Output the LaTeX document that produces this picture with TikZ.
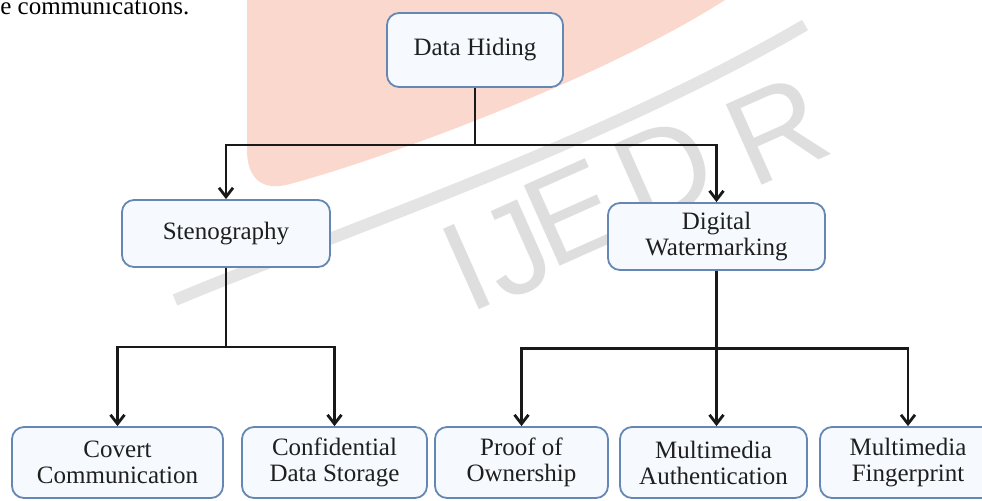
\documentclass[tikz,border=0pt]{standalone}
\usepackage{fontspec}
\setmainfont{Liberation Serif}
\newfontfamily\wmfont{Liberation Sans}
\usetikzlibrary{arrows.meta}

\definecolor{boxline}{RGB}{100,135,180}
\definecolor{boxfill}{RGB}{246,250,254}
\definecolor{wmpink}{RGB}{250,216,206}
\definecolor{wmgray}{RGB}{222,222,222}

\tikzset{
	topic/.style={draw=boxline, line width=0.9pt, fill=boxfill, rounded corners=6pt,
		align=center, text=black!88, inner sep=0pt, minimum height=35.5pt,
		font=\fontsize{12.5}{13}\selectfont},
	conn/.style={line width=1.4pt, black!90},
	arr/.style={conn, -{Straight Barb[length=4.5pt,width=7pt]}}
}

\begin{document}
\begin{tikzpicture}[x=0.5pt, y=-0.5pt]
		\useasboundingbox (0,0) rectangle (982,500);
		\clip (0,0) rectangle (982,500);
		
		% Watermark in the background
		\fill[wmpink] (247,0) -- (247,150) .. controls (247,178) and (262,192) .. (290,184)
			.. controls (380,160) and (600,80) .. (725,0) -- cycle;
		\draw[wmgray!80, line width=6pt] (175,300) .. controls (330,235) and (600,145) .. (805,25);
		\foreach \ch/\cx/\cy in {I/467/267, J/515/250, E/572/213, D/665/170, R/777/130}{
			\node[wmgray, rotate=24, inner sep=0pt, font=\wmfont\fontsize{64}{64}\selectfont] (wm-\ch) at (\cx,\cy) {\ch};
		}
		
		% Cut-off line of the page text
		\node[anchor=base west, inner sep=0pt, font=\fontsize{12.5}{13}\selectfont] (pagetext) at (0,14) {e communications.};
		
		% Root and the two kinds
		\node[topic, minimum width=88pt, minimum height=37pt] (hiding) at (475,50) {Data Hiding};
		\node[topic, minimum width=104pt, minimum height=33.5pt] (steno) at (226,233.5) {Stenography};
		\node[topic, minimum width=108.5pt, minimum height=33.5pt] (water) at (716.5,236.5) {Digital\\Watermarking};
		
		% Applications
		\node[topic, minimum width=105.5pt] (covert) at (117.5,462.5) {Covert\\Communication};
		\node[topic, minimum width=92.5pt] (conf) at (334.5,462.5) {Confidential\\Data Storage};
		\node[topic, minimum width=86.5pt] (proof) at (521.5,462.5) {Proof of\\Ownership};
		\node[topic, minimum width=93.5pt] (auth) at (713.5,462.5) {Multimedia\\Authentication};
		\node[topic, minimum width=88pt] (finger) at (908,462.5) {Multimedia\\Fingerprint};
		
		% Connectors
		\coordinate (split1) at (475,145);
		\coordinate (split2) at (226,347);
		\coordinate (split3) at (716.5,348.5);
		
		\draw[conn] (hiding) -- (split1);
		\draw[arr] (split1) -| (steno);
		\draw[arr] (split1) -| (water);
		
		\draw[conn] (steno) -- (split2);
		\draw[arr] (split2) -| (covert);
		\draw[arr] (split2) -| (conf);
		
		\draw[conn] (water) -- (split3);
		\draw[arr] (split3) -| (proof);
		\draw[arr] (split3) -- (split3 |- auth.north);
		\draw[arr] (split3) -| (finger);
	\end{tikzpicture}
\end{document}
